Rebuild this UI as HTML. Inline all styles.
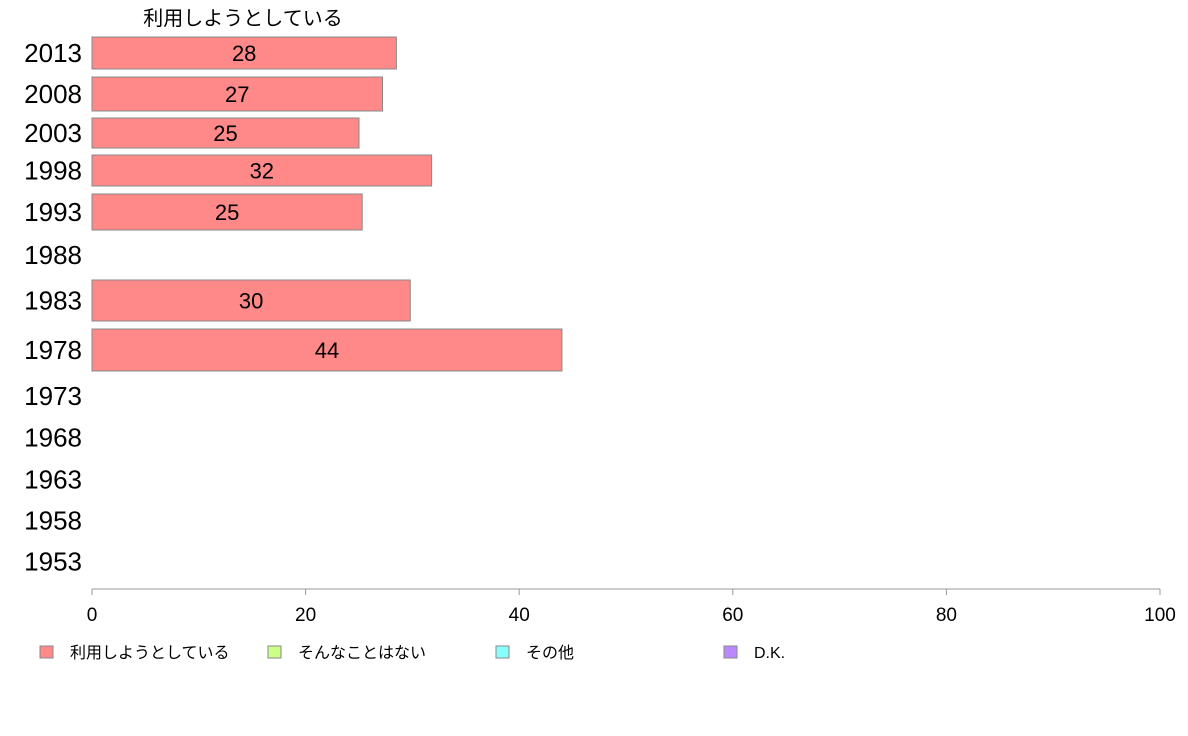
<!DOCTYPE html>
<html><head><meta charset="utf-8"><style>
body{margin:0;background:#fff;}
svg{display:block;font-family:"Liberation Sans","Noto Sans CJK JP",sans-serif;}
</style></head><body>
<svg id="chart" width="1188" height="736">
<text x="243" y="25" font-size="20" text-anchor="middle" fill="#000">利用しようとしている</text>
<g id="rows"></g>
<line x1="92" y1="589" x2="1160" y2="589" stroke="#999"/>
<g id="xticks"></g>
<g id="legend"></g>
</svg>
<script>
const years=["2013","2008","2003","1998","1993","1988","1983","1978","1973","1968","1963","1958","1953"];
const values=[28.5,27.2,25.0,31.8,25.3,null,29.8,44.0,null,null,null,null,null];
const valueLabels=["28","27","25","32","25","","30","44","","","","",""];
const tickValues=[0,20,40,60,80,100];
const legendLabels=["利用しようとしている","そんなことはない","その他","D.K."];
const legendColors=["#ff8888","#ccff88","#88ffff","#bb88ff"];
// layout (not data): row band top/bottom in px
const bandTop=[37,77,118,155,194,236,280,329,378,419,461,502,543];
const bandBot=[69,111,148,186,230,274,321,371,414,456,498,539,580];
const x0=92,x1=1160;
const xs=v=>x0+(x1-x0)*v/100;
const NS="http://www.w3.org/2000/svg";
function mk(t,a,p){const e=document.createElementNS(NS,t);for(const k in a)e.setAttribute(k,a[k]);p.appendChild(e);return e;}
const rows=document.getElementById('rows');
years.forEach((y,i)=>{
  const cy=(bandTop[i]+bandBot[i])/2;
  const t=mk('text',{x:82,y:cy+9,'font-size':26,'text-anchor':'end',fill:'#000'},rows);
  t.textContent=y;
  
  
  if(values[i]!=null){
    const r=mk('rect',{x:x0,y:bandTop[i],width:xs(values[i])-x0,height:bandBot[i]-bandTop[i],fill:'#ff8888',stroke:'#888','stroke-width':1},rows);
    
    
    const l=mk('text',{x:(x0+xs(values[i]))/2,y:cy+8,'font-size':22,'text-anchor':'middle',fill:'#000'},rows);
    l.textContent=valueLabels[i];
    
    
  }
});
const xt=document.getElementById('xticks');
tickValues.forEach(v=>{
  const ln=mk('line',{x1:xs(v),y1:589,x2:xs(v),y2:595,stroke:'#999'},xt);
  
  
  const t=mk('text',{x:xs(v),y:621,'font-size':19,'text-anchor':'middle',fill:'#000'},xt);
  t.textContent=v;
  
  
});
const lg=document.getElementById('legend');
legendLabels.forEach((s,i)=>{
  const lx=40+i*228;
  const r=mk('rect',{x:lx,y:646,width:13,height:12,fill:legendColors[i],stroke:'#888'},lg);
  
  
  const t=mk('text',{x:lx+30,y:658,'font-size':16,fill:'#000'},lg);
  t.textContent=s;
  
  
});
</script>
</body></html>
